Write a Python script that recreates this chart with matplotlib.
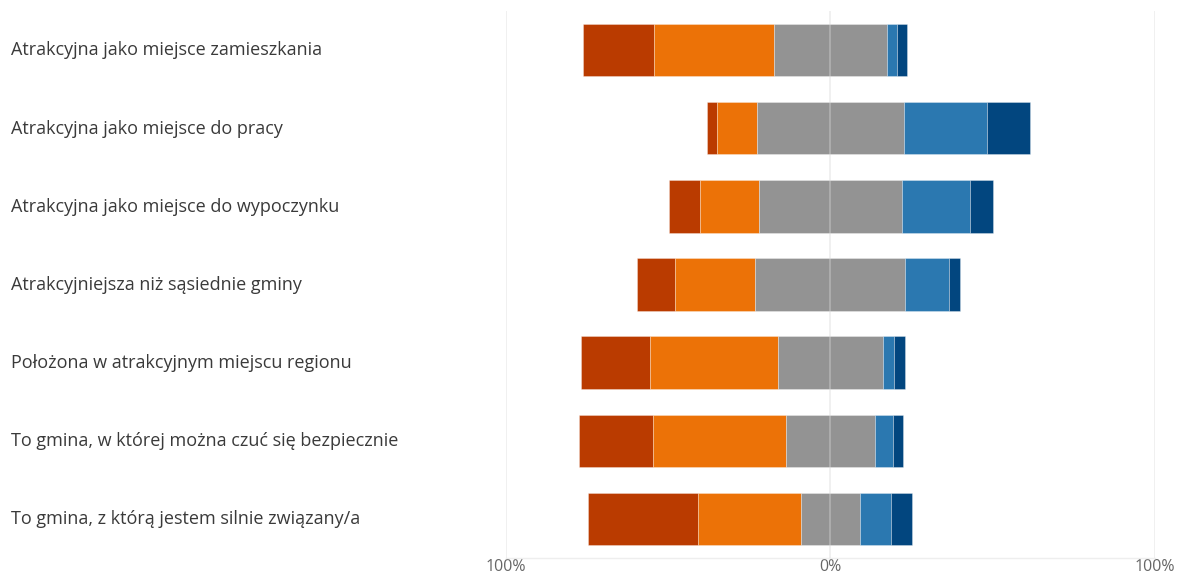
import matplotlib
matplotlib.use("Agg")
import matplotlib.pyplot as plt
import numpy as np

categories = [
    "Atrakcyjna jako miejsce zamieszkania",
    "Atrakcyjna jako miejsce do pracy",
    "Atrakcyjna jako miejsce do wypoczynku",
    "Atrakcyjniejsza niż sąsiednie gminy",
    "Położona w atrakcyjnym miejscu regionu",
    "To gmina, w której można czuć się bezpiecznie",
    "To gmina, z którą jestem silnie związany/a",
]
strongly_neg = [21.8, 3.1, 9.6, 11.5, 21.1, 22.8, 34.1]
neg = [36.9, 12.3, 17.9, 24.9, 39.5, 41.1, 31.6]
neutral = [35.0, 45.2, 44.2, 46.2, 32.3, 27.2, 18.2]
pos = [3.0, 25.7, 21.0, 13.3, 3.6, 5.6, 9.6]
strongly_pos = [3.1, 13.3, 7.1, 3.6, 3.1, 3.1, 6.4]
tick_values = [-100, 0, 100]
tick_labels = ["100%", "0%", "100%"]

colors = ["#BA3B00", "#EC7207", "#939393", "#2B78B0", "#02467F"]

plt.rcParams['font.family'] = ['Open Sans', 'DejaVu Sans']

fig = plt.figure(figsize=(11.84, 5.76), dpi=100)
ax = fig.add_axes([505.7/1184, 18/576, (1155-505.7)/1184, 547/576])

y = np.arange(len(categories))
series = [strongly_neg, neg, neutral, pos, strongly_pos]
left = -(np.array(strongly_neg) + np.array(neg) + np.array(neutral) / 2.0)
for vals, col in zip(series, colors):
    vals = np.array(vals)
    ax.barh(y, vals, left=left, height=0.67, color=col,
            edgecolor=(1, 1, 1, 0.35), linewidth=0.6, zorder=2)
    left = left + vals

ax.set_xlim(-100, 100)
ax.set_ylim(len(categories) - 0.5, -0.5)
ax.set_xticks(tick_values)
ax.set_xticklabels(tick_labels, color="#666666", fontsize=11.5)
ax.tick_params(axis='x', length=0, pad=1)
ax.set_yticks([])
for s in ["top", "left", "right"]:
    ax.spines[s].set_visible(False)
ax.spines["bottom"].set_color("#eeeeee")
ax.spines["bottom"].set_linewidth(1)

for v in [-100, 100]:
    ax.axvline(v, color="#eeeeee", linewidth=1.2, zorder=1)
ax.axvline(0, color="#d8d8d8", linewidth=1.2, alpha=0.45, zorder=3)

for i, cat in enumerate(categories):
    ax.text(11/1184, 1 - (50.3 + 78.2*i)/576, cat, transform=fig.transFigure,
            ha="left", va="center", fontsize=13, color="#3a3a3a")

fig.savefig("out.png", dpi=100)
